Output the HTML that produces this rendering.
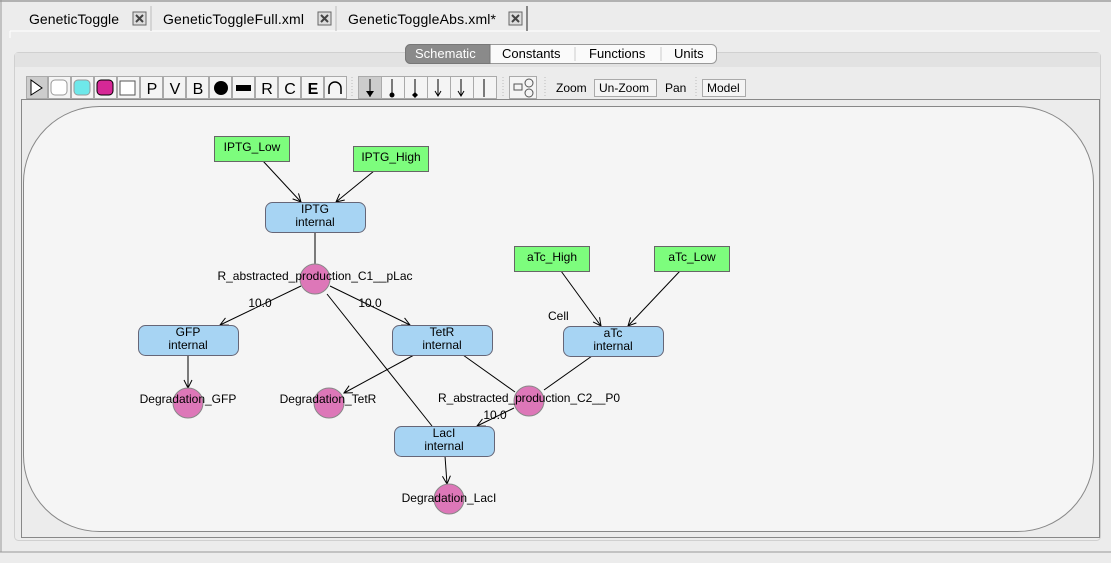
<!DOCTYPE html>
<html><head><meta charset="utf-8"><style>
body{margin:0;width:1111px;height:558px;background:#ececec;font-family:"Liberation Sans",sans-serif;overflow:hidden;position:relative}
</style></head><body>
<svg width="1111" height="558" xmlns="http://www.w3.org/2000/svg" font-family="Liberation Sans, sans-serif">
<defs><marker id="a" markerWidth="10" markerHeight="10" refX="9" refY="5" orient="auto" markerUnits="userSpaceOnUse"><path d="M1,1 L9,5 L1,9" fill="none" stroke="#000" stroke-width="1"/></marker></defs>
<rect x="0" y="0" width="1111" height="558" fill="#ececec"/>
<line x1="0" y1="1" x2="1111" y2="1" stroke="#777"/>
<line x1="1" y1="0" x2="1" y2="552" stroke="#999"/>
<line x1="0" y1="552" x2="1111" y2="552" stroke="#999"/>
<!-- tabs -->
<line x1="10" y1="31" x2="1100" y2="31" stroke="#fff"/>
<line x1="10" y1="31" x2="10" y2="38" stroke="#fff"/>
<g font-size="14" fill="#000">
<text x="29" y="24" textLength="90">GeneticToggle</text>
<text x="163" y="24" textLength="141">GeneticToggleFull.xml</text>
<text x="348" y="24" textLength="148">GeneticToggleAbs.xml*</text>
</g>
<g fill="#fff" stroke="#666">
<rect x="133" y="12" width="13" height="13" fill="#ddd"/><rect x="318" y="12" width="13" height="13" fill="#ddd"/><rect x="509" y="12" width="13" height="13" fill="#ddd"/>
</g>
<g stroke="#444" stroke-width="2"><path d="M136,15 l7,7 M143,15 l-7,7 M321,15 l7,7 M328,15 l-7,7 M512,15 l7,7 M519,15 l-7,7"/></g>
<g stroke="#bbb"><line x1="151" y1="6" x2="151" y2="31"/><line x1="336" y1="6" x2="336" y2="31"/></g>
<line x1="527" y1="6" x2="527" y2="31" stroke="#222"/>
<!-- main panel -->
<rect x="14.5" y="52.5" width="1086" height="488" rx="4" fill="#ececec" stroke="#d0d0d0"/>
<rect x="15" y="53" width="1085" height="14" fill="#e2e2e2"/>
<!-- segmented -->
<rect x="405.5" y="44.5" width="311" height="19" rx="5" fill="#fafafa" stroke="#999"/>
<path d="M410.5,44.5 H490 V63.5 H410.5 a5,5 0 0 1 -5,-5 V49.5 a5,5 0 0 1 5,-5z" fill="#8a8a8a" stroke="#777"/>
<g stroke="#ccc"><line x1="575" y1="47" x2="575" y2="61"/><line x1="661" y1="47" x2="661" y2="61"/></g>
<g font-size="13"><text x="415" y="58" fill="#fff">Schematic</text><text x="502" y="58">Constants</text><text x="589" y="58">Functions</text><text x="674" y="58">Units</text></g>
<!-- toolbar -->
<g fill="#f4f4f4" stroke="#aaa">
<rect x="26.5" y="76.5" width="21" height="22" fill="#ccc"/>
<rect x="48.5" y="76.5" width="22" height="22"/><rect x="71.5" y="76.5" width="22" height="22"/><rect x="94.5" y="76.5" width="22" height="22"/>
<rect x="117.5" y="76.5" width="22" height="22"/><rect x="140.5" y="76.5" width="22" height="22"/><rect x="163.5" y="76.5" width="22" height="22"/>
<rect x="186.5" y="76.5" width="22" height="22"/><rect x="209.5" y="76.5" width="22" height="22"/><rect x="232.5" y="76.5" width="22" height="22"/>
<rect x="255.5" y="76.5" width="22" height="22"/><rect x="278.5" y="76.5" width="22" height="22"/><rect x="301.5" y="76.5" width="22" height="22"/><rect x="324.5" y="76.5" width="22" height="22"/>
<rect x="358.5" y="76.5" width="23" height="22" fill="#ccc"/><rect x="381.5" y="76.5" width="23" height="22"/><rect x="404.5" y="76.5" width="23" height="22"/><rect x="427.5" y="76.5" width="23" height="22"/><rect x="450.5" y="76.5" width="23" height="22"/><rect x="473.5" y="76.5" width="23" height="22"/>
<rect x="509.5" y="76.5" width="27" height="22"/>
<rect x="594.5" y="79.5" width="62" height="17"/><rect x="702.5" y="79.5" width="43" height="17"/>
</g>
<path d="M31,80 L31,95 L42,88 Z" fill="#fff" stroke="#000"/>
<rect x="51" y="80" width="16" height="15" rx="4" fill="#fff" stroke="#999"/>
<rect x="74" y="80" width="16" height="15" rx="4" fill="#6ee8ea" stroke="#999"/>
<rect x="97" y="80" width="16" height="15" rx="4" fill="#d62896" stroke="#000"/>
<rect x="120" y="81" width="15" height="14" fill="#fff" stroke="#555"/>
<g font-size="16" text-anchor="middle"><text x="152" y="94">P</text><text x="175" y="94">V</text><text x="198" y="94">B</text><text x="267" y="94">R</text><text x="290" y="94">C</text><text x="313" y="94" font-weight="bold">E</text></g>
<circle cx="221" cy="88" r="7" fill="#000"/>
<rect x="236" y="85" width="15" height="6" fill="#000"/>
<path d="M329,94 V88 a6,6 0 1 1 12,0 V94" fill="none" stroke="#000" stroke-width="1.5"/>
<g stroke="#000"><path d="M370,79V97M392,79V95M415,79V95M438,79V95M461,79V96M484,79V97" /></g>
<path d="M366,91 l4,6 l4,-6z" fill="#000"/><circle cx="392" cy="95" r="2.5"/><path d="M415,92 l3,3 l-3,3 l-3,-3z"/>
<path d="M435,91 l3,5 l3,-5 M458,91 l3,5 l3,-5" fill="none" stroke="#000"/>
<rect x="514" y="84" width="8" height="6" fill="none" stroke="#555"/><circle cx="529" cy="83" r="4" fill="none" stroke="#555"/><circle cx="529" cy="93" r="4" fill="none" stroke="#555"/>
<g stroke="#bbb" stroke-dasharray="1,2"><line x1="352" y1="77" x2="352" y2="98"/><line x1="503" y1="77" x2="503" y2="98"/><line x1="545" y1="77" x2="545" y2="98"/><line x1="696" y1="77" x2="696" y2="98"/></g>
<g font-size="12"><text x="556" y="92">Zoom</text><text x="599" y="92">Un-Zoom</text><text x="665" y="92">Pan</text><text x="707" y="92">Model</text></g>
<!-- canvas -->
<rect x="21.5" y="99.5" width="1078" height="438" fill="#ececec" stroke="#888"/>
<rect x="23.5" y="106.5" width="1070" height="425" rx="76" fill="#f5f5f5" stroke="#888"/>
<text x="548" y="320" font-size="12">Cell</text>
<!-- edges -->
<g stroke="#000" fill="none" stroke-width="1">
<line x1="263" y1="161" x2="301" y2="202" marker-end="url(#a)"/>
<line x1="374" y1="171" x2="336" y2="202" marker-end="url(#a)"/>
<line x1="315" y1="232" x2="315" y2="264"/>
<line x1="301" y1="286" x2="220" y2="325" marker-end="url(#a)"/>
<line x1="330" y1="286" x2="410" y2="325" marker-end="url(#a)"/>
<line x1="327" y1="294" x2="432" y2="426"/>
<line x1="188" y1="355" x2="188" y2="388" marker-end="url(#a)"/>
<line x1="414" y1="355" x2="344" y2="393" marker-end="url(#a)"/>
<line x1="463" y1="355" x2="515" y2="392"/>
<line x1="592" y1="356" x2="544" y2="390"/>
<line x1="561" y1="271" x2="601" y2="326" marker-end="url(#a)"/>
<line x1="680" y1="271" x2="628" y2="326" marker-end="url(#a)"/>
<line x1="514" y1="408" x2="477" y2="426" marker-end="url(#a)"/>
<line x1="445" y1="456" x2="447" y2="484" marker-end="url(#a)"/>
</g>
<!-- green species -->
<g fill="#7dfd7d" stroke="#666">
<rect x="214.5" y="136.5" width="75" height="25"/><rect x="353.5" y="146.5" width="75" height="25"/>
<rect x="514.5" y="246.5" width="75" height="25"/><rect x="654.5" y="246.5" width="75" height="25"/>
</g>
<g font-size="12" text-anchor="middle">
<text x="252" y="151">IPTG_Low</text><text x="391" y="161">IPTG_High</text>
<text x="552" y="261">aTc_High</text><text x="692" y="261">aTc_Low</text>
</g>
<!-- blue species -->
<g fill="#a7d4f3" stroke="#667">
<rect x="265.5" y="202.5" width="100" height="30" rx="7"/>
<rect x="138.5" y="325.5" width="100" height="30" rx="7"/>
<rect x="392.5" y="325.5" width="100" height="30" rx="7"/>
<rect x="563.5" y="326.5" width="100" height="30" rx="7"/>
<rect x="394.5" y="426.5" width="100" height="30" rx="7"/>
</g>
<g font-size="12" text-anchor="middle">
<text x="315" y="213">IPTG</text><text x="315" y="226">internal</text>
<text x="188" y="336">GFP</text><text x="188" y="349">internal</text>
<text x="442" y="336">TetR</text><text x="442" y="349">internal</text>
<text x="613" y="337">aTc</text><text x="613" y="350">internal</text>
<text x="444" y="437">LacI</text><text x="444" y="450">internal</text>
</g>
<!-- reactions -->
<g fill="#dd77b8" stroke="#888">
<circle cx="315" cy="279" r="15"/><circle cx="188" cy="403" r="15"/><circle cx="329" cy="403" r="15"/><circle cx="529" cy="401" r="15"/><circle cx="449" cy="499" r="15"/>
</g>
<g font-size="12" text-anchor="middle">
<text x="315" y="280" textLength="195">R_abstracted_production_C1__pLac</text>
<text x="188" y="403">Degradation_GFP</text>
<text x="328" y="403">Degradation_TetR</text>
<text x="529" y="402" textLength="182">R_abstracted_production_C2__P0</text>
<text x="449" y="502">Degradation_LacI</text>
<text x="260" y="307">10.0</text><text x="370" y="307">10.0</text><text x="495" y="419">10.0</text>
</g>
</svg>
</body></html>
